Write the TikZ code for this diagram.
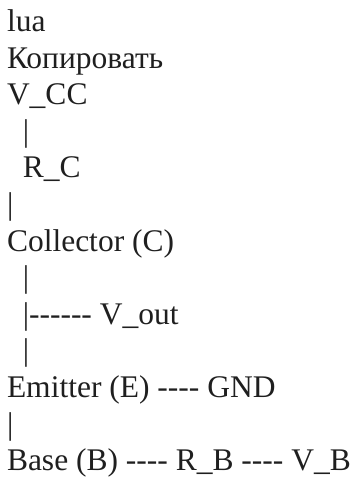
\documentclass[tikz,border=0pt]{standalone}
\usepackage{fontspec}
\setmainfont{Liberation Serif}[Ligatures=TeXOff]

\tikzset{
  codeline/.style={anchor=base west,inner sep=0pt,outer sep=0pt,text=black!88,
    font=\fontsize{31.5}{36.6}\selectfont},
}

\begin{document}
\begin{tikzpicture}[x=1pt,y=1pt]
			\useasboundingbox (0,0) rectangle (356,-478);
			%\draw[gray] (0,0) rectangle (356,-478);
			\node[codeline] (lang) at (7,-31.5) {lua};
			\node[codeline] (copy) at (7,-68.1) {Копировать};
			\node[codeline] (vcc) at (7,-104.7) {V\_CC};
			\node[codeline] (barA) at (22.75,-141.3) {|};
			\node[codeline] (rc) at (22.75,-177.9) {R\_C};
			\node[codeline] (barB) at (7,-214.5) {|};
			\node[codeline] (coll) at (7,-251.1) {Collector (C)};
			\node[codeline] (barC) at (22.75,-287.7) {|};
			\node[codeline] (vout) at (22.75,-324.3) {|------ V\_out};
			\node[codeline] (barD) at (22.75,-360.9) {|};
			\node[codeline] (emit) at (7,-397.5) {Emitter (E) ---- GND};
			\node[codeline] (barE) at (7,-434.1) {|};
			\node[codeline] (base) at (7,-470.7) {Base (B) ---- R\_B ---- V\_B};
\end{tikzpicture}
\end{document}
